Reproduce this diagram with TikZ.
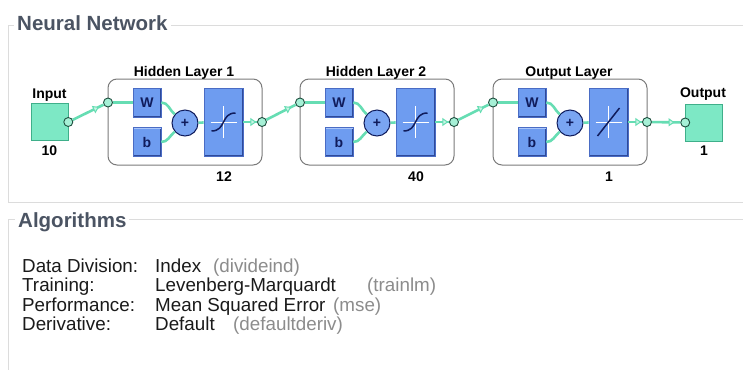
\documentclass[tikz,border=0pt]{standalone}
\usepackage{fontspec}
\setmainfont{Liberation Sans}
\usetikzlibrary{arrows.meta,decorations.markings,calc}
\definecolor{framegray}{HTML}{DCDCDC}
\definecolor{headgray}{HTML}{4B5463}
\definecolor{txt}{HTML}{1A1A1A}
\definecolor{pargray}{HTML}{8C8C8C}
\definecolor{iofill}{HTML}{7DE8C5}
\definecolor{iodraw}{HTML}{3FAF8A}
\definecolor{layergray}{HTML}{7A7A7A}
\definecolor{bluefill}{HTML}{6E9CF0}
\definecolor{bluedraw}{HTML}{4A6CC4}
\definecolor{bluedark}{HTML}{2E4A9A}
\definecolor{bluelight}{HTML}{A9C5FA}
\definecolor{navyc}{HTML}{101C5C}
\definecolor{sumfill}{HTML}{7AA5F2}
\definecolor{portfill}{HTML}{A6F0D6}
\definecolor{portdraw}{HTML}{1F4F3F}
\definecolor{wirecol}{HTML}{66DDB3}
\definecolor{wirelight}{HTML}{C9F5E5}
\tikzset{
  frameline/.style={draw=framegray, line width=0.8pt},
  heading/.style={font=\fontsize{20.5}{22}\selectfont\bfseries, text=headgray, anchor=base west, inner ysep=0pt, inner xsep=3pt, fill=white},
  rowtxt/.style={font=\fontsize{18.8}{20}\selectfont, text=txt, anchor=base west, inner sep=0pt},
  paren/.style={rowtxt, text=pargray},
  smalllbl/.style={font=\fontsize{14}{16}\selectfont\bfseries, text=black, anchor=base, inner sep=0pt},
  iobox/.style={draw=iodraw, fill=iofill, minimum size=37pt, inner sep=0pt, line width=0.6pt},
  layerbox/.style={draw=layergray, fill=white, rounded corners=9pt, minimum width=154pt, minimum height=86pt, inner sep=0pt, line width=1pt},
  bevel/.style={path picture={
    \draw[line width=3pt, draw=bluedark] (path picture bounding box.south west) -- (path picture bounding box.south east) -- (path picture bounding box.north east);
    \draw[line width=2pt, draw=bluelight] (path picture bounding box.south west) -- (path picture bounding box.north west) -- (path picture bounding box.north east);}},
  wbbox/.style={bevel, draw=bluedraw, fill=bluefill, minimum width=28pt, minimum height=29pt, inner sep=0pt, font=\fontsize{14}{16}\selectfont\bfseries, text=navyc, line width=0.6pt},
  tfbox/.style={bevel, draw=bluedraw, fill=bluefill, minimum width=39pt, minimum height=68pt, inner sep=0pt, line width=0.6pt},
  sumnode/.style={circle, draw=navyc, fill=sumfill, minimum size=26pt, inner sep=0pt, line width=1pt, font=\fontsize{14}{16}\selectfont\bfseries, text=navyc},
  port/.style={circle, draw=portdraw, fill=portfill, minimum size=9pt, inner sep=0pt, line width=0.9pt},
  wire/.style={draw=wirecol, line width=2.6pt},
  arrowat/.style={postaction={decorate}, decoration={markings, mark=at position #1 with {\arrow{Triangle[length=6pt,width=8pt,fill=wirelight,line width=1pt]}}}},
}
\begin{document}
\begin{tikzpicture}[x=1pt,y=-1pt]
\useasboundingbox (0,0) rectangle (743,370);
\fill[white] (0,0) rectangle (743,370);
% group frames
\draw[frameline] (743,25) -- (8,25) -- (8,202) -- (743,202);
\draw[frameline] (743,219) -- (8,219) -- (8,370);
\node[heading] (t1) at (14,30) {Neural Network};
\node[heading] (t2) at (15,227) {Algorithms};
% input / output
\node[iobox] (in) at (49.5,122) {};
\node[smalllbl] (inlbl) at (49.5,98) {Input};
\node[smalllbl] (innum) at (49.5,155) {10};
\node[port] (inp) at (in.east) {};
\node[iobox] (out) at (704,122.5) {};
\node[smalllbl] (outlbl) at (703,97) {Output};
\node[smalllbl] (outnum) at (704,155) {1};
\node[port] (outp) at (out.west) {};
% layers
\foreach \i/\lx/\ttl/\n in {1/108/Hidden Layer 1/12, 2/300/Hidden Layer 2/40, 3/493/Output Layer/1}{
  \node[layerbox] (L\i) at (\lx+77,122) {};
  \node[smalllbl] (lt\i) at (\lx+76,76) {\ttl};
  \node[smalllbl] (ln\i) at (\lx+116,181) {\n};
  \node[wbbox] (w\i) at (\lx+39,102.5) {W};
  \node[wbbox] (b\i) at (\lx+39,142) {b};
  \node[sumnode] (s\i) at (\lx+77,123) {+};
  \node[tfbox] (tf\i) at (\lx+115.5,122) {};
  \node[port] (e\i) at (\lx,102.5) {};
  \node[port] (x\i) at (\lx+154,122) {};
  \draw[white, line width=0.6pt] ($(tf\i.center)+(-13,0)$) -- ++(26,0);
  \draw[white, line width=0.6pt] ($(tf\i.center)+(0,-16)$) -- ++(0,32);
  \draw[wire] (e\i) -- (w\i);
  \draw[wire] (w\i.east) to[out=0,in=140] (s\i);
  \draw[wire] (b\i.east) to[out=0,in=220] (s\i);
  \draw[wire] (s\i) -- (tf\i);
  \draw[wire,arrowat=0.95] (tf\i) -- (x\i);
}
\foreach \i in {1,2}{
  \draw[navyc, line width=1.5pt] ($(tf\i.center)+(-12,9)$) .. controls ($(tf\i.center)+(3,9)$) and ($(tf\i.center)+(-3,-9)$) .. ($(tf\i.center)+(12,-9)$);
}
\draw[navyc, line width=1.5pt] ($(tf3.center)+(-11,14)$) -- ($(tf3.center)+(11,-14)$);
% inter-layer wires
\draw[wire,arrowat=0.85] (inp) -- (e1);
\draw[wire,arrowat=0.85] (x1) -- (e2);
\draw[wire,arrowat=0.85] (x2) -- (e3);
\draw[wire,arrowat=0.8] (x3) -- (outp);
% algorithms
\node[rowtxt] (r1a) at (22,272) {Data Division:};
\node[rowtxt] (r1b) at (155,272) {Index};
\node[paren] (r1c) at (213,272) {(divideind)};
\node[rowtxt] (r2a) at (22,291.5) {Training:};
\node[rowtxt] (r2b) at (155,291.5) {Levenberg-Marquardt};
\node[paren] (r2c) at (367,291.5) {(trainlm)};
\node[rowtxt] (r3a) at (22,311) {Performance:};
\node[rowtxt] (r3b) at (155,311) {Mean Squared Error};
\node[paren] (r3c) at (333,311) {(mse)};
\node[rowtxt] (r4a) at (22,330.5) {Derivative:};
\node[rowtxt] (r4b) at (155,330.5) {Default};
\node[paren] (r4c) at (233,330.5) {(defaultderiv)};
\end{tikzpicture}
\end{document}
